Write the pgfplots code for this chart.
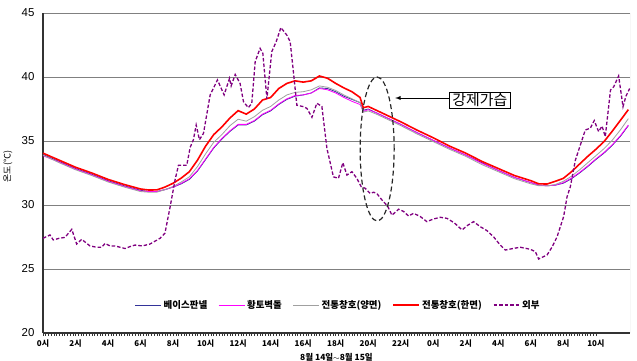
\documentclass[border=0pt]{standalone}
\usepackage{fontspec}
\setmainfont{Liberation Sans}
\newfontfamily\cjk{Noto Sans CJK KR}
\usepackage{pgfplots}
\pgfplotsset{compat=1.18}
\definecolor{navyc}{HTML}{333399}
\definecolor{magc}{HTML}{FF00FF}
\definecolor{grayc}{HTML}{A0A0A0}
\definecolor{purc}{HTML}{800080}
\definecolor{gridc}{HTML}{808080}
\begin{document}
\begin{tikzpicture}
\begin{axis}[
  at={(0,0)}, anchor=south west,
  scale only axis, width=587bp, height=320bp,
  xmin=0, xmax=36.1, ymin=20, ymax=45,
  axis x line*=bottom, axis y line*=left,
  axis line style={line width=1.2bp, color=black!80},
  ytick={20,25,30,35,40,45},
  ymajorgrids, major grid style={color=gridc, line width=0.9bp},
  ytick style={draw=none},
  xtick={0,2,...,34},
  xticklabels={0시,2시,4시,6시,8시,10시,12시,14시,16시,18시,20시,22시,0시,2시,4시,6시,8시,10시},
  minor x tick num=11,
  tick align=outside,
  major tick length=3bp, minor tick length=2.5bp,
  xtick style={color=black!80, line width=0.5bp},
  x tick label style={font=\cjk\bfseries\fontsize{8}{9}\selectfont, yshift=-0.5bp},
  y tick label style={font=\fontsize{11.5}{12}\selectfont, xshift=-2bp},
  /pgf/number format/assume math mode=true,
  xlabel={8월 14일$\sim$8월 15일},
  xlabel style={font=\cjk\bfseries\fontsize{8.5}{9}\selectfont, at={(rel axis cs:0.5,0)}, anchor=north, yshift=-17bp},
  ylabel={온도(℃)},
  ylabel style={font=\cjk\fontsize{9}{10}\selectfont, at={(rel axis cs:-0.046,0.52)}, anchor=south},
  legend style={at={(rel axis cs:0.503,0.0875)}, anchor=center, draw=none, fill=none,
    font=\cjk\bfseries\fontsize{9.5}{10}\selectfont, legend columns=5,
    /tikz/every even column/.append style={column sep=9bp}},
  legend image code/.code={\draw[#1] (0bp,0bp) -- (26bp,0bp);},
]
\addplot[navyc, line width=0.8bp] coordinates {
(0,33.95)(1,33.4)(2,32.85)(3,32.4)(4,31.9)(5,31.5)(6,31.15)(6.5,31.05)(7,31.05)(7.5,31.2)(8,31.4)(8.5,31.65)(9,32.0)(9.5,32.65)(10,33.55)(10.5,34.45)(11,35.15)(11.5,35.75)(12,36.25)(12.5,36.25)(13,36.55)(13.5,37.05)(14,37.35)(14.5,37.85)(15,38.25)(15.5,38.5)(16,38.6)(16.5,38.75)(17,39.15)(17.5,39.1)(18,38.85)(18.5,38.5)(19,38.25)(19.5,38.0)(19.7,37.4)(20,37.5)(20.5,37.2)(21,36.9)(22,36.3)(23,35.65)(24,35.05)(25,34.45)(26,33.9)(27,33.3)(28,32.7)(29,32.15)(30,31.75)(30.5,31.55)(31,31.5)(31.5,31.55)(32,31.7)(32.5,32.05)(33,32.5)(33.5,33.0)(34,33.55)(34.5,34.05)(35,34.65)(35.5,35.35)(36,36.2)};
\addlegendentry{베이스판넬}
\addplot[magc, line width=0.8bp] coordinates {
(0,33.85)(1,33.35)(2,32.8)(3,32.35)(4,31.85)(5,31.45)(6,31.1)(6.5,31.05)(7,31.05)(7.5,31.2)(8,31.4)(8.5,31.7)(9,32.05)(9.5,32.7)(10,33.6)(10.5,34.5)(11,35.2)(11.5,35.8)(12,36.3)(12.5,36.3)(13,36.6)(13.5,37.1)(14,37.4)(14.5,37.9)(15,38.3)(15.5,38.55)(16,38.6)(16.5,38.75)(17,39.1)(17.5,39.0)(18,38.75)(18.5,38.4)(19,38.1)(19.5,37.85)(19.7,37.3)(20,37.45)(20.5,37.2)(21,36.9)(22,36.3)(23,35.65)(24,35.05)(25,34.45)(26,33.9)(27,33.25)(28,32.7)(29,32.15)(30,31.75)(30.5,31.55)(31,31.5)(31.5,31.55)(32,31.75)(32.5,32.1)(33,32.55)(33.5,33.05)(34,33.6)(34.5,34.1)(35,34.7)(35.5,35.4)(36,36.25)};
\addlegendentry{황토벽돌}
\addplot[grayc, line width=0.8bp] coordinates {
(0,33.9)(1,33.3)(2,32.75)(3,32.3)(4,31.8)(5,31.4)(6,31.05)(6.5,31.0)(7,31.0)(7.5,31.2)(8,31.45)(8.5,31.8)(9,32.2)(9.5,33.0)(10,34.0)(10.5,34.9)(11,35.5)(11.5,36.2)(12,36.7)(12.5,36.55)(13,36.9)(13.5,37.4)(14,37.7)(14.5,38.2)(15,38.6)(15.5,38.8)(16,38.85)(16.5,39.0)(17,39.3)(17.5,39.2)(18,38.95)(18.5,38.6)(19,38.3)(19.5,38.0)(19.7,37.25)(20,37.35)(20.5,37.1)(21,36.8)(22,36.2)(23,35.55)(24,34.95)(25,34.35)(26,33.8)(27,33.15)(28,32.6)(29,32.05)(30,31.65)(30.5,31.5)(31,31.5)(31.5,31.6)(32,31.85)(32.5,32.25)(33,32.75)(33.5,33.3)(34,33.85)(34.5,34.4)(35,35.05)(35.5,35.85)(36,36.75)};
\addlegendentry{전통창호(양면)}
\addplot[red, line width=1.6bp] coordinates {
(0,34.05)(1,33.5)(2,32.95)(3,32.5)(4,32.0)(5,31.6)(6,31.25)(6.5,31.17)(7,31.18)(7.5,31.4)(8,31.7)(8.5,32.1)(9,32.6)(9.5,33.5)(10,34.6)(10.5,35.5)(11,36.1)(11.5,36.8)(12,37.37)(12.5,37.1)(13,37.5)(13.5,38.2)(14,38.4)(14.5,39.1)(15,39.5)(15.5,39.7)(16,39.6)(16.5,39.7)(17,40.08)(17.5,39.9)(18,39.5)(18.5,39.15)(19,38.85)(19.5,38.4)(19.7,37.6)(20,37.7)(20.5,37.4)(21,37.1)(22,36.5)(23,35.85)(24,35.25)(25,34.6)(26,34.05)(27,33.4)(28,32.85)(29,32.3)(30,31.9)(30.5,31.65)(31,31.64)(31.5,31.85)(32,32.08)(32.5,32.6)(33,33.2)(33.5,33.8)(34,34.35)(34.5,34.95)(35,35.75)(35.5,36.6)(36,37.45)};
\addlegendentry{전통창호(한면)}
\addplot[purc, line width=1.3bp, dash pattern=on 3.5bp off 2bp] coordinates {
(0,27.4)(0.43,27.66)(0.63,27.27)(1.0,27.4)(1.35,27.47)(1.77,28.1)(2.07,26.95)(2.38,27.32)(2.89,26.8)(3.3,26.7)(3.61,26.7)(3.82,27.0)(4.12,26.8)(4.43,26.8)(5.05,26.6)(5.35,26.75)(5.66,26.87)(6.1,26.8)(6.58,26.95)(7.2,27.4)(7.5,27.8)(7.82,29.87)(8.12,31.95)(8.33,33.1)(8.84,33.1)(9.05,34.5)(9.25,35.1)(9.42,36.25)(9.62,35.1)(9.87,35.6)(10.28,38.6)(10.73,39.77)(11.14,38.6)(11.47,39.9)(11.57,39.3)(11.82,40.2)(12.12,39.5)(12.33,38.07)(12.63,37.6)(12.84,37.95)(13.05,41.2)(13.35,42.24)(13.52,41.85)(13.77,38.3)(14.07,41.98)(14.34,42.76)(14.63,43.86)(14.99,43.28)(15.2,42.76)(15.4,40.4)(15.61,37.8)(16.02,37.68)(16.23,37.55)(16.54,36.85)(16.84,37.95)(17.15,37.7)(17.46,34.43)(17.86,32.2)(18.17,32.08)(18.44,33.3)(18.69,32.34)(19.0,32.6)(19.3,32.08)(19.57,31.43)(19.82,31.3)(20.12,30.9)(20.33,31.0)(20.53,30.9)(20.84,30.4)(21.2,29.9)(21.46,29.2)(21.87,29.67)(22.17,29.5)(22.48,29.14)(22.79,29.35)(23.2,29.1)(23.61,28.7)(24.0,28.9)(24.43,29.04)(24.84,28.96)(25.3,28.6)(25.77,28.05)(26.1,28.4)(26.48,28.7)(26.9,28.3)(27.3,28.0)(27.72,27.5)(28.1,26.9)(28.43,26.48)(28.9,26.6)(29.35,26.7)(29.97,26.54)(30.28,26.35)(30.48,25.78)(31.0,26.1)(31.3,26.7)(31.61,27.5)(32.02,29.1)(32.23,30.65)(32.43,31.43)(32.74,33.5)(33.05,34.7)(33.35,35.86)(33.66,36.0)(33.9,36.6)(34.17,35.73)(34.38,36.17)(34.58,35.34)(34.9,38.98)(35.1,39.24)(35.4,40.08)(35.67,37.68)(35.85,38.5)(36.08,39.1)};
\addlegendentry{외부}
\draw[black!85, line width=1.2bp, dash pattern=on 5bp off 3bp] (axis cs:20.55,34.375) ellipse [x radius=17bp, y radius=72bp];
\draw[-latex, line width=0.9bp] (axis cs:24.98,38.36) -- (axis cs:21.66,38.36);
\node[draw, line width=0.6bp, fill=white, inner xsep=3bp, inner ysep=1bp, anchor=west, font=\cjk\fontsize{15}{16}\selectfont] at (axis cs:24.98,38.2) {강제가습};
\draw[color=black!25, line width=1bp] (rel axis cs:1,0) -- (rel axis cs:1,1);
\end{axis}
\pgfresetboundingbox
\path (-43bp,-28bp) rectangle (594bp,333bp);
\end{tikzpicture}
\end{document}
